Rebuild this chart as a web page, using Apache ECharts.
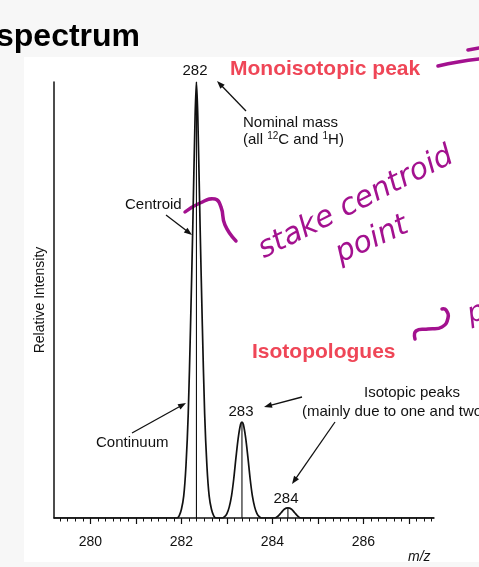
<!DOCTYPE html>
<html>
<head>
<meta charset="utf-8">
<script src="https://cdn.jsdelivr.net/npm/echarts@6/dist/echarts.min.js"></script>
<style>
html, body { margin: 0; padding: 0; background: #fff; }
#main { width: 479px; height: 567px; }
</style>
</head>
<body>
<div id="main"></div>
<script>
// continuum profile (m/z, relative intensity)
const profileMz = [
  279.2, 281.9, 281.95, 282.0, 282.05, 282.1, 282.15, 282.2, 282.25, 282.3, 282.33,
  282.36, 282.41, 282.46, 282.51, 282.56, 282.61, 282.66, 282.71, 282.76,
  282.9, 282.95, 283.0, 283.05, 283.1, 283.15, 283.2, 283.25, 283.3, 283.33,
  283.36, 283.41, 283.46, 283.51, 283.56, 283.61, 283.66, 283.71, 283.76,
  284.05, 284.12, 284.19, 284.26, 284.34, 284.42, 284.49, 284.56, 284.63, 287.55
]
const profileInt = [
  0, 0, 0.5, 2, 5, 12, 24, 44, 67, 92, 100,
  92, 67, 44, 24, 12, 5, 2, 0.5, 0,
  0, 0.3, 1, 2.5, 5, 9, 14, 18.5, 21.5, 22,
  21.5, 18.5, 14, 9, 5, 2.5, 1, 0.3, 0,
  0, 0.4, 1.2, 2, 2.3, 2, 1.2, 0.4, 0, 0
]
// centroid sticks
const centroidMz = [282.33, 283.33, 284.34]
const centroidInt = [100, 22, 2.3]

const majorTicks = [280, 281, 282, 283, 284, 285, 286, 287]
const tickLabels = [280, 282, 284, 286]
const minorTicks = []
for (let i = -4; i <= 45; i++) minorTicks.push(280 + i / 6)

const xMin = 279.2
const xMax = 287.55
const ink = '#111'
const red = '#ef4657'
const pen = '#a3118f'
const grey = '#f7f7f7'

const main = document.getElementById('main')
const myChart = echarts.init(main)

function arrow(x1, y1, x2, y2) {
  const a = Math.atan2(y2 - y1, x2 - x1)
  const L = 8, W = 3
  const c = Math.cos(a), s = Math.sin(a)
  return [
    { type: 'line', shape: { x1, y1, x2: x2 - L * 0.7 * c, y2: y2 - L * 0.7 * s },
      style: { stroke: ink, lineWidth: 1.3 } },
    { type: 'polygon',
      shape: { points: [[x2, y2], [x2 - L * c + W * s, y2 - L * s - W * c], [x2 - L * c - W * s, y2 - L * s + W * c]] },
      style: { fill: ink } }
  ]
}

function label(text, x, y, align) {
  return {
    type: 'text', x, y,
    style: { text, fill: ink, font: '15px "Liberation Sans", Arial, sans-serif', align: align || 'left', verticalAlign: 'middle' }
  }
}

function hand(text, x, y, rot) {
  return {
    type: 'text', x, y, rotation: rot,
    style: { text, fill: pen, font: 'italic 30px "DejaVu Sans", sans-serif', align: 'center', verticalAlign: 'middle' }
  }
}

function stroke(points) {
  return { type: 'polyline', shape: { points, smooth: 0.5 },
    style: { stroke: pen, lineWidth: 3.5, fill: null, lineCap: 'round', lineJoin: 'round' } }
}

myChart.setOption({
  backgroundColor: '#fff',
  animation: false,
  grid: { left: 54, right: 45, top: 82, bottom: 49 },
  xAxis: [
    {
      type: 'value', min: xMin, max: xMax,
      axisLine: { show: true, lineStyle: { color: ink, width: 1.5 } },
      axisTick: { show: true, customValues: majorTicks, length: 6, lineStyle: { color: ink, width: 1.2 } },
      axisLabel: { customValues: tickLabels, color: ink, fontSize: 14, margin: 17, fontFamily: 'Liberation Sans' },
      splitLine: { show: false }
    },
    {
      type: 'value', min: xMin, max: xMax, position: 'bottom',
      axisLine: { show: false },
      axisTick: { show: true, customValues: minorTicks, length: 3.5, lineStyle: { color: ink, width: 1 } },
      axisLabel: { show: false },
      splitLine: { show: false }
    }
  ],
  yAxis: {
    type: 'value', min: 0, max: 100,
    name: 'Relative Intensity', nameLocation: 'middle', nameGap: 7,
    nameTextStyle: { color: ink, fontSize: 14, fontFamily: 'Liberation Sans' },
    axisLine: { show: true, lineStyle: { color: ink, width: 1.5 } },
    axisTick: { show: false },
    axisLabel: { show: false },
    splitLine: { show: false }
  },
  series: [
    {
      type: 'line',
      data: profileMz.map((m, i) => [m, profileInt[i]]),
      showSymbol: false,
      smooth: 0.3,
      lineStyle: { color: ink, width: 1.7 },
      z: 3
    },
    {
      type: 'custom',
      data: centroidMz.map((m, i) => [m, centroidInt[i]]),
      renderItem: (params, api) => {
        const p0 = api.coord([api.value(0), 0])
        const p1 = api.coord([api.value(0), api.value(1)])
        return { type: 'line', shape: { x1: p0[0], y1: p0[1], x2: p1[0], y2: p1[1] },
          style: { stroke: ink, lineWidth: 1.1 } }
      },
      z: 2
    }
  ],
  graphic: [
    // slide background around the scanned figure
    { type: 'rect', shape: { x: 0, y: 0, width: 479, height: 57 }, style: { fill: grey } },
    { type: 'rect', shape: { x: 0, y: 0, width: 24, height: 567 }, style: { fill: grey } },
    { type: 'rect', shape: { x: 0, y: 562, width: 479, height: 5 }, style: { fill: grey } },
    { type: 'text', x: -4, y: 37,
      style: { text: 'spectrum', fill: '#000', font: 'bold 32px "Liberation Sans", Arial, sans-serif', verticalAlign: 'middle' } },

    { type: 'text', x: 230, y: 69,
      style: { text: 'Monoisotopic peak', fill: red, font: 'bold 21px "Liberation Sans", Arial, sans-serif', verticalAlign: 'middle' } },
    { type: 'text', x: 252, y: 352,
      style: { text: 'Isotopologues', fill: red, font: 'bold 21px "Liberation Sans", Arial, sans-serif', verticalAlign: 'middle' } },

    label('282', 195, 71, 'center'),
    label('Nominal mass', 243, 123),
    { type: 'text', x: 243, y: 140,
      style: {
        text: '(all {s|12}C and {s|1}H)', fill: ink, font: '15px "Liberation Sans", Arial, sans-serif', verticalAlign: 'middle',
        rich: { s: { fontSize: 10, verticalAlign: 'top', padding: [0, 0, 8, 0], fill: ink } }
      } },
    label('Centroid', 125, 205),
    label('Continuum', 96, 443),
    label('283', 241, 412, 'center'),
    label('Isotopic peaks', 412, 393, 'center'),
    label('(mainly due to one and two', 302, 412),
    label('284', 286, 499, 'center'),
    { type: 'text', x: 408, y: 557,
      style: { text: 'm/z', fill: ink, font: 'italic 14px "Liberation Sans", Arial, sans-serif', verticalAlign: 'middle' } },

    ...arrow(246, 111, 217, 81),
    ...arrow(166, 215, 192, 235),
    ...arrow(132, 433, 186, 403),
    ...arrow(302, 397, 264, 407),
    ...arrow(335, 422, 292, 484),

    // handwritten notes
    hand('stake centroid', 356, 203, 0.47),
    hand('point', 372, 240, 0.42),
    stroke([[185, 212], [200, 203], [215, 199], [221, 207], [225, 225], [236, 241]]),
    stroke([[438, 66], [458, 62], [479, 59]]),
    stroke([[468, 50], [479, 48]]),
    stroke([[415, 339], [416, 331], [428, 329], [442, 327], [448, 318], [446, 310], [442, 309]]),
    { type: 'text', x: 468, y: 316, rotation: 0.3,
      style: { text: 'pr', fill: pen, font: 'italic 28px "DejaVu Sans", sans-serif', align: 'left', verticalAlign: 'middle' } }
  ]
})
</script>
</body>
</html>
